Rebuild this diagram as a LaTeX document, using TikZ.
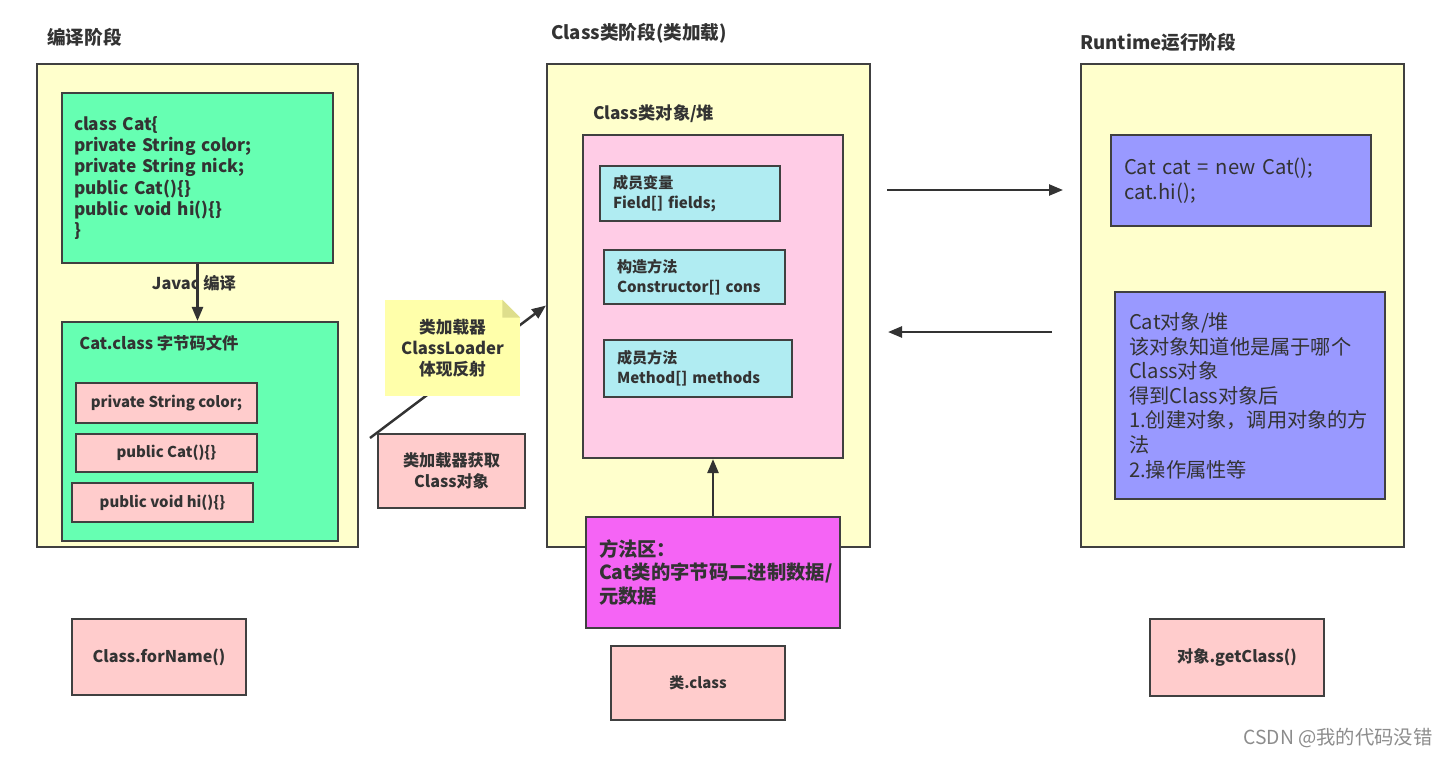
\documentclass[tikz,border=0pt]{standalone}
\usepackage{fontspec}
\setmainfont{Noto Sans CJK SC}
\usetikzlibrary{arrows.meta, positioning, calc}
\definecolor{stageyellow}{RGB}{255,255,204}
\definecolor{codegreen}{RGB}{102,255,178}
\definecolor{itempink}{RGB}{255,204,204}
\definecolor{heappink}{RGB}{255,204,230}
\definecolor{fieldcyan}{RGB}{176,236,242}
\definecolor{areamagenta}{RGB}{245,100,245}
\definecolor{runpurple}{RGB}{153,153,255}
\definecolor{noteyellow}{RGB}{255,255,170}
\definecolor{notefold}{RGB}{222,222,140}
\definecolor{edgegray}{RGB}{64,64,64}
\definecolor{inkgray}{RGB}{51,51,51}

\begin{document}
\begin{tikzpicture}[
  stagebox/.style={draw=edgegray, line width=1.2pt, fill=stageyellow, minimum width=6.46cm, minimum height=9.66cm, inner sep=0pt},
  titletext/.style={anchor=west, inner sep=0pt, text=inkgray, font=\fontsize{10.6pt}{13pt}\selectfont\bfseries},
  labeltext/.style={inner sep=0pt, text=inkgray, font=\fontsize{9.3pt}{11pt}\selectfont\bfseries},
  codebox/.style={draw=edgegray, line width=1.2pt, fill=codegreen, inner xsep=0.24cm, inner ysep=0pt, align=left, text=inkgray, font=\fontsize{9.8pt}{12.1pt}\selectfont\bfseries},
  itembox/.style={draw=edgegray, line width=1.2pt, fill=itempink, minimum width=3.48cm, inner sep=0pt, align=center, text=inkgray, font=\fontsize{8.5pt}{11.5pt}\selectfont\bfseries},
  notebox/.style={fill=noteyellow, minimum width=2.7cm, minimum height=1.92cm, inner sep=0pt, align=center, text=inkgray, font=\fontsize{9.5pt}{11.9pt}\selectfont\bfseries},
  heapbox/.style={draw=edgegray, line width=1.2pt, fill=heappink, minimum width=5.2cm, minimum height=6.46cm, inner sep=0pt},
  fieldbox/.style={draw=edgegray, line width=1.2pt, fill=fieldcyan, inner xsep=0.26cm, inner ysep=0pt, align=left, text=inkgray, font=\fontsize{8.6pt}{11.3pt}\selectfont\bfseries},
  areabox/.style={draw=edgegray, line width=1.2pt, fill=areamagenta, inner xsep=0.26cm, inner ysep=0pt, align=left, text=inkgray, font=\fontsize{11pt}{13.3pt}\selectfont\bfseries},
  runbox/.style={draw=edgegray, line width=1.2pt, fill=runpurple, inner xsep=0.26cm, inner ysep=0pt, align=left, text=inkgray, font=\fontsize{11.5pt}{14pt}\selectfont},
  flow/.style={-{Triangle[length=2.8mm, width=2.2mm]}, line width=1.4pt, draw=inkgray}
]
  \useasboundingbox (0,0) rectangle (28.98,-15.12);

  \node[stagebox, minimum width=6.42cm] (compile) at (3.95,-6.11) {};
  \node[stagebox] (classstage) at (14.17,-6.11) {};
  \node[stagebox] (runtime) at (24.85,-6.11) {};

  \node[titletext] (compiletitle) at (0.94,-0.74) {编译阶段};
  \node[titletext] (classtitle) at (11.02,-0.66) {Class类阶段(类加载)};
  \node[titletext] (runtimetitle) at (21.6,-0.84) {Runtime运行阶段};

  \node[codebox, minimum width=5.42cm, text width=4.94cm, minimum height=3.4cm] (catsrc) at (3.95,-3.56) {class Cat\{\\private String color;\\private String nick;\\public Cat()\{\}\\public void hi()\{\}\\\}};
  \node[codebox, minimum width=5.52cm, minimum height=4.38cm] (bytecode) at (4.0,-8.63) {};
  \node[labeltext, anchor=west] (bytecodetitle) at (1.58,-6.86) {Cat.class 字节码文件};
  \node[itembox, minimum width=3.62cm, minimum height=0.8cm] (colorfield) at (3.33,-8.06) {private String color;};
  \node[itembox, minimum width=3.62cm, minimum height=0.76cm] (catctor) at (3.33,-9.06) {public Cat()\{\}};
  \node[itembox, minimum width=3.62cm, minimum height=0.78cm] (himethod) at (3.25,-10.05) {public void hi()\{\}};

  \node[labeltext] (javac) at (3.88,-5.66) {Javac 编译};
  \draw[flow] (catsrc.south) -- (catsrc.south |- bytecode.north);

  \coordinate (loadstart) at (7.4,-8.76);
  \draw[flow] (loadstart) -- (classstage.west);
  \node[notebox] (loader) at (9.05,-6.96) {类加载器\\ClassLoader\\体现反射};
  \fill[white] (loader.north east) -- ++(-0.36,0) -- ++(0.36,-0.36) -- cycle;
  \fill[notefold] ($(loader.north east)+(-0.36,0)$) -- ++(0,-0.36) -- ++(0.36,0) -- cycle;
  \node[itembox, minimum width=2.94cm, minimum height=1.48cm, font=\fontsize{9.2pt}{12pt}\selectfont\bfseries] (getclassobj) at (9.03,-9.42) {类加载器获取\\Class对象};

  \node[labeltext, anchor=west, font=\fontsize{9.8pt}{11pt}\selectfont\bfseries] (heaptitle) at (11.86,-2.28) {Class类对象/堆};
  \node[heapbox] (heap) at (14.26,-5.93) {};
  \node[fieldbox, minimum width=3.6cm, text width=3.08cm, minimum height=1.1cm] (fields) at (13.8,-3.87) {成员变量\\Field[] fields;};
  \node[fieldbox, minimum width=3.62cm, text width=3.1cm, minimum height=1.08cm] (cons) at (13.89,-5.54) {构造方法\\Constructor[] cons};
  \node[fieldbox, minimum width=3.76cm, text width=3.24cm, minimum height=1.14cm] (methods) at (13.96,-7.37) {成员方法\\Method[] methods};

  \node[areabox, minimum width=5.08cm, text width=4.56cm, minimum height=2.22cm] (methodarea) at (14.26,-11.45) {方法区：\\Cat类的字节码二进制数据/\\元数据};
  \draw[flow] (methodarea) -- (heap);
  \node[itembox, minimum height=1.48cm] (classliteral) at (13.96,-13.66) {类.class};

  \coordinate (toruntime) at (17.74,-3.8);
  \coordinate (runentry) at (21.26,-3.8);
  \draw[flow] (toruntime) -- (runentry);
  \coordinate (fromruntime) at (21.04,-6.64);
  \coordinate (backentry) at (17.76,-6.64);
  \draw[flow] (fromruntime) -- (backentry);

  \node[runbox, minimum width=5.2cm, text width=4.68cm, minimum height=1.82cm] (newcat) at (24.82,-3.61) {Cat cat = new Cat();\\cat.hi();};
  \node[runbox, minimum width=5.4cm, text width=4.84cm, minimum height=4.14cm] (catobj) at (25.0,-7.91) {Cat对象/堆\\该对象知道他是属于哪个\\Class对象\\得到Class对象后\\1.创建对象，调用对象的方\\法\\2.操作属性等};

  \node[itembox, minimum height=1.52cm, font=\fontsize{9.2pt}{11pt}\selectfont\bfseries] (forname) at (3.18,-13.14) {Class.forName()};
  \node[itembox, minimum height=1.54cm, font=\fontsize{9.2pt}{11pt}\selectfont\bfseries] (getclass) at (24.74,-13.15) {对象.getClass()};

  \node[anchor=west, inner sep=0pt, text=black!45, font=\fontsize{11pt}{12pt}\selectfont] (watermark) at (24.86,-14.76) {CSDN @我的代码没错};
\end{tikzpicture}
\end{document}
